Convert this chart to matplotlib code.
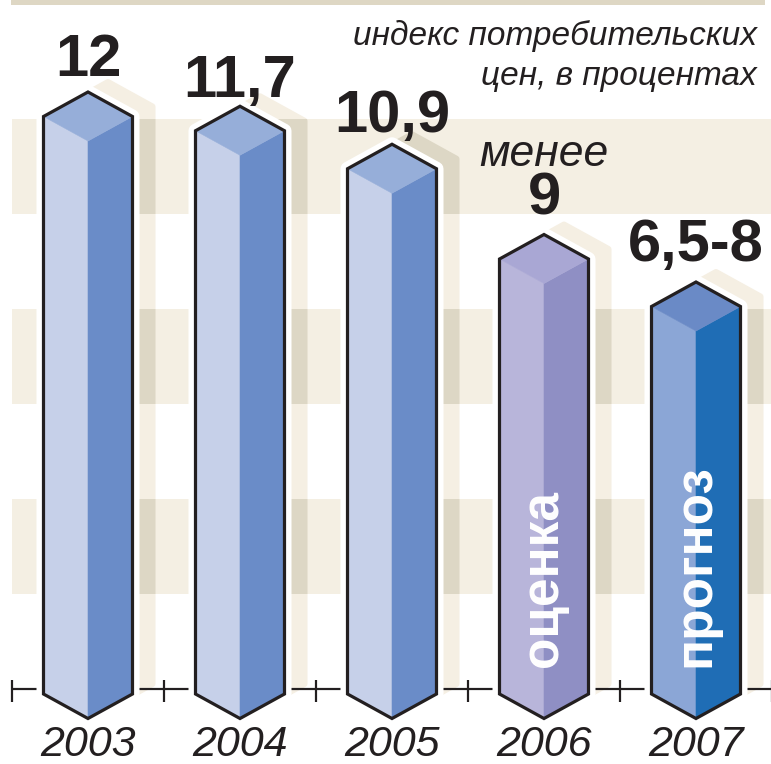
import matplotlib
matplotlib.use("Agg")
import matplotlib.pyplot as plt
from matplotlib.patches import Polygon, Rectangle
from matplotlib import font_manager

# Data
years = ['2003', '2004', '2005', '2006', '2007']
values = [12, 11.7, 10.9, 9, 8]
value_labels = ['12', '11,7', '10,9', '9', '6,5-8']
inner_labels = ['', '', '', 'оценка', 'прогноз']
subtitle_lines = ['индекс потребительских', 'цен, в процентах']
note_2006 = 'менее'

# Style
PX_X = 152.0   # pixels per category
PX_Y = 47.5    # pixels per percent
face_colors = [
    ('#c6d0e9', '#6a8cc8', '#96aed9'),
    ('#c6d0e9', '#6a8cc8', '#96aed9'),
    ('#c6d0e9', '#6a8cc8', '#96aed9'),
    ('#b8b5da', '#8f8fc4', '#a9a7d4'),
    ('#8ba6d6', '#1f6db5', '#6a8ac6'),
]
label_gap_px = [16, 9, 12, 20, 21]
band_lows = [1.43, 5.43, 9.43]
BAND_H = 2.0
INK = '#231f20'
SHADOW = '#f5efe3'
SHADOW_DARK = '#ddd7c5'
BAND = '#f4efe3'

names = {f.name for f in font_manager.fontManager.ttflist}
NARROW = 'Liberation Sans Narrow' if 'Liberation Sans Narrow' in names else 'Liberation Sans'
plt.rcParams['font.family'] = ['Liberation Sans', 'DejaVu Sans']


def pt(px):
    return px * 0.72


hw = 44.5 / PX_X          # half width of a bar
sl = 24.5 / PX_Y          # slant of top/bottom faces
base = -32 / PX_Y         # value of bottom corners
sdx, sdy = 20 / PX_X, 10 / PX_Y

fig = plt.figure(figsize=(7.71, 7.64), dpi=100)
ax = fig.add_axes([0, 0, 1, 1])
xmax = (771 - 88) / PX_X
ax.set_xlim(-88 / PX_X, xmax)
ax.set_ylim(-102 / PX_Y, 662 / PX_Y)
ax.axis('off')

# top strip
ax.add_patch(Rectangle((-77 / PX_X, 657 / PX_Y), (765 - 11) / PX_X, 6 / PX_Y,
                       facecolor='#ded7c4', edgecolor='none', zorder=0))

# background bands
band_rects = []
for lo in band_lows:
    r = Rectangle((-0.5, lo), xmax + 0.5, BAND_H, facecolor=BAND,
                  edgecolor='none', zorder=0)
    ax.add_patch(r)
    band_rects.append(r)


def hexagon(x, v):
    return [(x, v), (x + hw, v - sl), (x + hw, base), (x, base - sl),
            (x - hw, base), (x - hw, v - sl)]


for i, v in enumerate(values):
    pts = hexagon(i, v)
    sh = [(px + sdx, py + sdy) for px, py in pts]
    ax.add_patch(Polygon(sh, closed=True, facecolor=SHADOW, edgecolor=SHADOW,
                         lw=pt(6), joinstyle='round', zorder=1))
    for r in band_rects:
        clip = Rectangle(r.get_xy(), r.get_width(), r.get_height(),
                         transform=ax.transData)
        p = Polygon(sh, closed=True, facecolor=SHADOW_DARK, edgecolor=SHADOW_DARK,
                    lw=pt(6), joinstyle='round', zorder=1.1)
        ax.add_patch(p)
        p.set_clip_path(clip)

# axis line and ticks
axis_y = -27 / PX_Y
ax.plot([-0.5, xmax], [axis_y, axis_y], color=INK, lw=pt(2.2), zorder=2,
        solid_capstyle='butt')
for k in range(len(years) + 1):
    ax.plot([k - 0.5, k - 0.5], [axis_y + 9 / PX_Y, axis_y - 13 / PX_Y],
            color=INK, lw=pt(2.2), zorder=2, solid_capstyle='butt')

for i, v in enumerate(values):
    left_c, right_c, top_c = face_colors[i]
    pts = hexagon(i, v)
    ax.add_patch(Polygon(pts, closed=True, facecolor='white', edgecolor='white',
                         lw=pt(14), joinstyle='round', zorder=3))
    left = [(i - hw, v - sl), (i, v - 2 * sl), (i, base - sl), (i - hw, base)]
    right = [(i, v - 2 * sl), (i + hw, v - sl), (i + hw, base), (i, base - sl)]
    top = [(i, v), (i + hw, v - sl), (i, v - 2 * sl), (i - hw, v - sl)]
    for poly, c in ((left, left_c), (right, right_c), (top, top_c)):
        ax.add_patch(Polygon(poly, closed=True, facecolor=c, edgecolor=c,
                             lw=0.4, zorder=4))
    ax.add_patch(Polygon(pts, closed=True, fill=False, edgecolor=INK,
                         lw=pt(3.2), joinstyle='miter', zorder=5))

    ax.text(i, v + label_gap_px[i] / PX_Y, value_labels[i], ha='center',
            va='baseline', fontsize=43, fontweight='bold', family=NARROW,
            color=INK, zorder=6)
    ax.text(i, -94 / PX_Y, years[i], ha='center', va='baseline',
            fontsize=31, style='italic', color=INK, zorder=6)
    if inner_labels[i]:
        ax.text(i + 13 / PX_X, -5 / PX_Y, inner_labels[i], rotation=90,
                rotation_mode='anchor', ha='left', va='baseline', fontsize=37,
                fontweight='bold', family=NARROW, color='white', zorder=6)

ax.text(3, values[3] + 68 / PX_Y, note_2006, ha='center', va='baseline',
        fontsize=32, style='italic', color=INK, zorder=6)
for k, line in enumerate(subtitle_lines):
    ax.text((757 - 88) / PX_X, (662 - 45 - 40 * k) / PX_Y, line, ha='right',
            va='baseline', fontsize=24, style='italic', color=INK, zorder=6)

fig.savefig('out.png', dpi=100)
